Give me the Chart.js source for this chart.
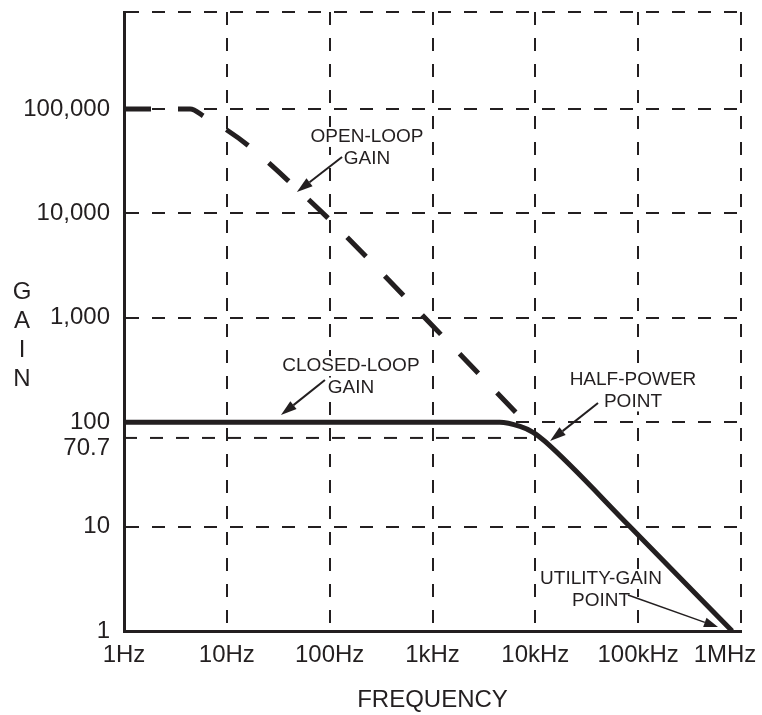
<!DOCTYPE html>
<html>
<head>
<meta charset="utf-8">
<title>Op-amp gain vs frequency</title>
<script src="https://cdn.jsdelivr.net/npm/chart.js@4.4.1/dist/chart.umd.min.js"></script>
<style>
  html, body { margin: 0; padding: 0; background: #fff; }
  #wrap { width: 762px; height: 715px; }
</style>
</head>
<body>
<div id="wrap"><canvas id="gainChart" width="762" height="715"></canvas></div>
<script>
// axis ticks
const freqTicks = [1, 10, 100, 1000, 10000, 100000, 1000000];
const freqLabels = ["1Hz", "10Hz", "100Hz", "1kHz", "10kHz", "100kHz", "1MHz"];
const gainTicks = [1, 10, 70.7, 100, 1000, 10000, 100000];
const gainLabels = ["1", "10", "70.7", "100", "1,000", "10,000", "100,000"];
const gainTop = 850000;

// open-loop response (dashed)
const openFreq = [1, 4.4, 6.1, 10, 17, 42, 100, 1000, 7600];
const openGain = [100000, 100000, 84000, 63000, 43000, 19500, 8700, 840, 105];

// closed-loop response (solid)
const closedFreq = [1, 4500, 7100, 9500, 12500, 83000, 820000];
const closedGain = [100, 100, 91, 80, 65, 10, 1];

// the 70.7 level is only ruled up to 10kHz
const halfPowerFreq = [1, 10000];
const halfPowerGain = [70.7, 70.7];

const ink = "#231f20";
const fontFamily = "'Liberation Sans', Arial, Helvetica, sans-serif";

const toPoints = (xs, ys) => xs.map((x, i) => ({ x: x, y: ys[i] }));

// crowded tick labels are drawn by hand with a small nudge (px)
const nudgedY = { 100: 0, 70.7: 10 };
const nudgedX = { 1000000: -16 };

// callouts: text centre of first line, arrow tail and head (data coords)
const notes = [
  { lines: ["OPEN-LOOP", "GAIN"], at: [231, 54000], tail: [132, 34700], head: [48, 16000], width: 2, head_len: 16 },
  { lines: ["CLOSED-LOOP", "GAIN"], at: [161, 345], tail: [90, 254], head: [33.6, 117], width: 2, head_len: 16 },
  { lines: ["HALF-POWER", "POINT"], at: [89000, 254], tail: [40700, 153], head: [13900, 66], width: 2, head_len: 16 },
  { lines: ["UTILITY-GAIN", "POINT"], at: [43500, 3.15], tail: [79600, 2.21], head: [598000, 1.09], width: 1.5, head_len: 14 }
];

const calloutPlugin = {
  id: "callouts",
  afterDatasetsDraw(chart) {
    const ctx = chart.ctx;
    const xs = chart.scales.x, ys = chart.scales.y;
    ctx.save();
    ctx.font = "19px " + fontFamily;
    ctx.textAlign = "center";
    ctx.textBaseline = "middle";
    notes.forEach(n => {
      const cx = xs.getPixelForValue(n.at[0]);
      const cy = ys.getPixelForValue(n.at[1]);
      n.lines.forEach((t, i) => {
        const y = cy + i * 21.5;
        const w = ctx.measureText(t).width;
        ctx.fillStyle = "#fff";
        ctx.fillRect(cx - w / 2 - 3, y - 10, w + 6, 20);
        ctx.fillStyle = ink;
        ctx.fillText(t, cx, y);
      });
      const x1 = xs.getPixelForValue(n.tail[0]), y1 = ys.getPixelForValue(n.tail[1]);
      const x2 = xs.getPixelForValue(n.head[0]), y2 = ys.getPixelForValue(n.head[1]);
      const a = Math.atan2(y2 - y1, x2 - x1);
      const L = n.head_len, W = 5;
      const bx = x2 - L * Math.cos(a), by = y2 - L * Math.sin(a);
      ctx.strokeStyle = ink;
      ctx.lineWidth = n.width;
      ctx.beginPath();
      ctx.moveTo(x1, y1);
      ctx.lineTo(bx, by);
      ctx.stroke();
      ctx.fillStyle = ink;
      ctx.beginPath();
      ctx.moveTo(x2, y2);
      ctx.lineTo(bx + W * Math.sin(a), by - W * Math.cos(a));
      ctx.lineTo(bx - W * Math.sin(a), by + W * Math.cos(a));
      ctx.closePath();
      ctx.fill();
    });
    ctx.restore();
  }
};

// stacked y axis title plus the hand-placed tick labels
const gainTitlePlugin = {
  id: "gainTitle",
  afterDraw(chart) {
    const ctx = chart.ctx;
    const xs = chart.scales.x, ys = chart.scales.y;
    ctx.save();
    ctx.font = "24px " + fontFamily;
    ctx.fillStyle = ink;
    ctx.textAlign = "center";
    ctx.textBaseline = "middle";
    ["G", "A", "I", "N"].forEach((ch, i) => ctx.fillText(ch, 22, 292 + i * 29));
    freqTicks.forEach((v, i) => {
      if (nudgedX[v] === undefined) return;
      ctx.fillText(freqLabels[i], xs.getPixelForValue(v) + nudgedX[v], ys.bottom + 24);
    });
    ctx.textAlign = "right";
    gainTicks.forEach((v, i) => {
      if (nudgedY[v] === undefined) return;
      ctx.fillText(gainLabels[i], ys.right - 14, ys.getPixelForValue(v) + nudgedY[v]);
    });
    ctx.restore();
  }
};

const noPadding = s => {
  s.paddingLeft = 0; s.paddingRight = 0; s.paddingTop = 0; s.paddingBottom = 0;
};

new Chart(document.getElementById("gainChart"), {
  type: "line",
  data: {
    datasets: [
      {
        label: "Closed-loop gain",
        data: toPoints(closedFreq, closedGain),
        borderColor: ink,
        borderWidth: 5,
        cubicInterpolationMode: "monotone"
      },
      {
        label: "Open-loop gain",
        data: toPoints(openFreq, openGain),
        borderColor: ink,
        borderWidth: 5,
        borderDash: [27, 27],
        cubicInterpolationMode: "monotone"
      },
      {
        label: "70.7",
        data: toPoints(halfPowerFreq, halfPowerGain),
        borderColor: ink,
        borderWidth: 2,
        borderDash: [13, 13]
      }
    ]
  },
  options: {
    responsive: false,
    animation: false,
    layout: { autoPadding: false, padding: { top: 12, right: 21, left: 0, bottom: 0 } },
    elements: { point: { radius: 0 } },
    plugins: { legend: { display: false }, tooltip: { enabled: false } },
    scales: {
      x: {
        type: "logarithmic",
        min: 1,
        max: 1000000,
        afterBuildTicks: s => { s.ticks = freqTicks.map(v => ({ value: v })); },
        afterFit: s => { s.height = 84; noPadding(s); },
        ticks: {
          autoSkip: false,
          maxRotation: 0,
          padding: 10,
          color: ink,
          font: { family: fontFamily, size: 24 },
          callback: (v, i) => (nudgedX[freqTicks[i]] !== undefined ? "" : freqLabels[i])
        },
        grid: { color: ink, lineWidth: 2, drawTicks: false },
        border: { display: true, color: ink, width: 3, dash: [13, 13] },
        title: {
          display: true,
          text: "FREQUENCY",
          color: ink,
          font: { family: fontFamily, size: 24 },
          padding: { top: 0, bottom: 0 }
        }
      },
      y: {
        type: "logarithmic",
        min: 1,
        max: gainTop,
        afterBuildTicks: s => { s.ticks = gainTicks.concat([gainTop]).map(v => ({ value: v })); },
        afterFit: s => { s.width = 124; noPadding(s); },
        ticks: {
          autoSkip: false,
          padding: 14,
          color: ink,
          font: { family: fontFamily, size: 24 },
          callback: (v, i) => (nudgedY[gainTicks[i]] !== undefined ? "" : gainLabels[i] || "")
        },
        grid: {
          color: c => (c.tick && c.tick.value === 70.7 ? "rgba(0,0,0,0)" : ink),
          lineWidth: 2,
          drawTicks: false
        },
        border: { display: true, color: ink, width: 3, dash: [13, 13] }
      }
    }
  },
  plugins: [calloutPlugin, gainTitlePlugin]
});
</script>
</body>
</html>
